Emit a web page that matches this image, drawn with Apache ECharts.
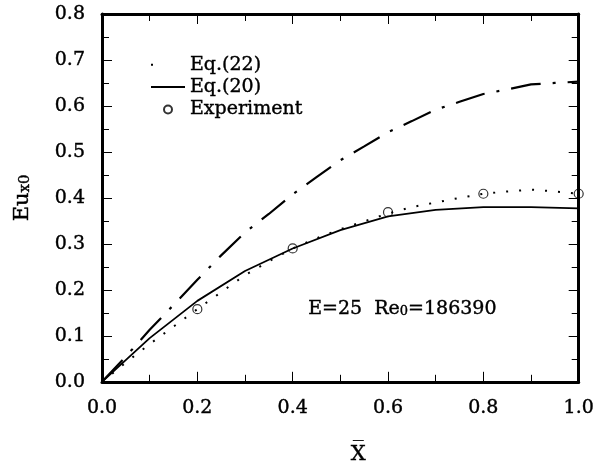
<!DOCTYPE html>
<html lang="en">
<head>
  <meta charset="UTF-8">
  <title>Eux0 vs X</title>
  <script src="https://cdn.jsdelivr.net/npm/echarts@6/dist/echarts.min.js"></script>
  <style>html, body { margin: 0; padding: 0; background: #fff; }</style>
</head>
<body>
  <div id="chart" style="width: 597px;height: 470px;"></div>
  <script>
    // values
    const xFine = [0, 0.05, 0.1, 0.15, 0.2, 0.25, 0.3, 0.35, 0.4, 0.45, 0.5,
      0.55, 0.6, 0.65, 0.7, 0.75, 0.8, 0.85, 0.9, 0.95, 1.0]
    // Eq.(22), dotted
    const eq22 = [0, 0.042, 0.082, 0.12, 0.158, 0.195, 0.232, 0.262, 0.29, 0.312, 0.332,
      0.349, 0.366, 0.38, 0.39, 0.4, 0.409, 0.414, 0.418, 0.414, 0.409]
    // upper dash-dot curve (no legend entry)
    const dashDot = [0, 0.055, 0.113, 0.167, 0.222, 0.275, 0.325, 0.365, 0.408, 0.445, 0.482,
      0.512, 0.543, 0.567, 0.592, 0.609, 0.626, 0.636, 0.647, 0.65, 0.653]
    // Eq.(20), solid
    const xCoarse = [0, 0.1, 0.2, 0.3, 0.4, 0.5, 0.6, 0.7, 0.8, 0.9, 1.0]
    const eq20 = [0, 0.095, 0.176, 0.241, 0.29, 0.33, 0.36, 0.374, 0.38, 0.38, 0.377]
    // experiment
    const expX = [0.2, 0.4, 0.6, 0.8, 1.0]
    const expY = [0.158, 0.29, 0.369, 0.409, 0.409]

    const pair = (xs, ys) => xs.map((x, i) => [x, ys[i]])
    const font = 'DejaVu Serif'
    // 让文字稍微粗一点,接近扫描图
    const ink = { color: '#000', textBorderColor: '#000', textBorderWidth: 0.4 }

    const myChart = echarts.init(document.getElementById('chart'))

    // 坐标轴公共样式
    const frameAxis = {
      axisLine: { show: true, onZero: false, lineStyle: { color: '#000', width: 3 } },
      axisTick: { show: true, inside: true, length: 10, lineStyle: { color: '#000', width: 1 } },
      minorTick: { show: true, splitNumber: 2, length: 7, lineStyle: { color: '#000', width: 1 } },
      splitLine: { show: false },
      minorSplitLine: { show: false }
    }

    const option = {
      animation: false,
      grid: { left: 102, right: 15, top: 14, bottom: 84 },
      legend: {
        orient: 'vertical',
        left: 145,
        top: 50,
        itemWidth: 34,
        itemHeight: 8,
        itemGap: 3,
        data: [
          { name: 'Eq.(22)', lineStyle: { type: [2, 40] }, itemStyle: { opacity: 0 } },
          { name: 'Eq.(20)', itemStyle: { opacity: 0 } },
          { name: 'Experiment' }
        ],
        textStyle: { fontFamily: font, fontSize: 19, lineHeight: 17, ...ink }
      },
      xAxis: [
        {
          type: 'value', min: 0, max: 1, interval: 0.2,
          ...frameAxis,
          axisLabel: { fontFamily: font, fontSize: 19, margin: 17, ...ink, formatter: v => v.toFixed(1) },
          name: 'X\u0305',
          nameLocation: 'middle',
          nameGap: 62,
          nameTextStyle: { fontFamily: font, fontSize: 21, ...ink, padding: [0, 0, 0, 36] }
        },
        {
          type: 'value', min: 0, max: 1, interval: 0.2, position: 'top',
          ...frameAxis,
          axisLabel: { show: false }
        }
      ],
      yAxis: [
        {
          type: 'value', min: 0, max: 0.8, interval: 0.1,
          ...frameAxis,
          axisLabel: { fontFamily: font, fontSize: 19, margin: 17, ...ink, formatter: v => v.toFixed(1) },
          name: '{a|Eu}{b|x0}',
          nameLocation: 'middle',
          nameRotate: 90,
          nameGap: 69,
          nameTextStyle: {
            rich: {
              a: { fontFamily: font, fontSize: 21, ...ink, verticalAlign: 'bottom' },
              b: { fontFamily: font, fontSize: 15, ...ink, verticalAlign: 'bottom' }
            }
          }
        },
        {
          type: 'value', min: 0, max: 0.8, interval: 0.1, position: 'right',
          ...frameAxis,
          axisLabel: { show: false }
        }
      ],
      graphic: [
        {
          type: 'text',
          left: 308,
          top: 299,
          style: {
            text: '{a|E=25  Re}{s|0}{a|=186390}',
            rich: {
              a: { fontFamily: font, fontSize: 19, fill: '#000', stroke: '#000', lineWidth: 0.4, verticalAlign: 'bottom' },
              s: { fontFamily: font, fontSize: 13, fill: '#000', stroke: '#000', lineWidth: 0.4, verticalAlign: 'bottom' }
            }
          }
        }
      ],
      series: [
        {
          name: 'dash-dot',
          type: 'line',
          data: pair(xFine, dashDot),
          symbol: 'none',
          lineStyle: { color: '#000', width: 2.2, type: [30, 12, 3, 12] }
        },
        {
          name: 'Eq.(22)',
          type: 'line',
          data: pair(xFine, eq22),
          symbol: 'none',
          itemStyle: { color: '#000' },
          lineStyle: { color: '#000', width: 2, type: [2, 11] }
        },
        {
          name: 'Eq.(20)',
          type: 'line',
          data: pair(xCoarse, eq20),
          symbol: 'none',
          itemStyle: { color: '#000' },
          lineStyle: { color: '#000', width: 1.8, type: 'solid' }
        },
        {
          name: 'Experiment',
          type: 'scatter',
          data: pair(expX, expY),
          symbol: 'circle',
          symbolSize: 9,
          itemStyle: { color: 'transparent', borderColor: '#000', borderWidth: 1.2 },
          z: 5
        }
      ]
    }

    myChart.setOption(option)
  </script>
</body>
</html>
